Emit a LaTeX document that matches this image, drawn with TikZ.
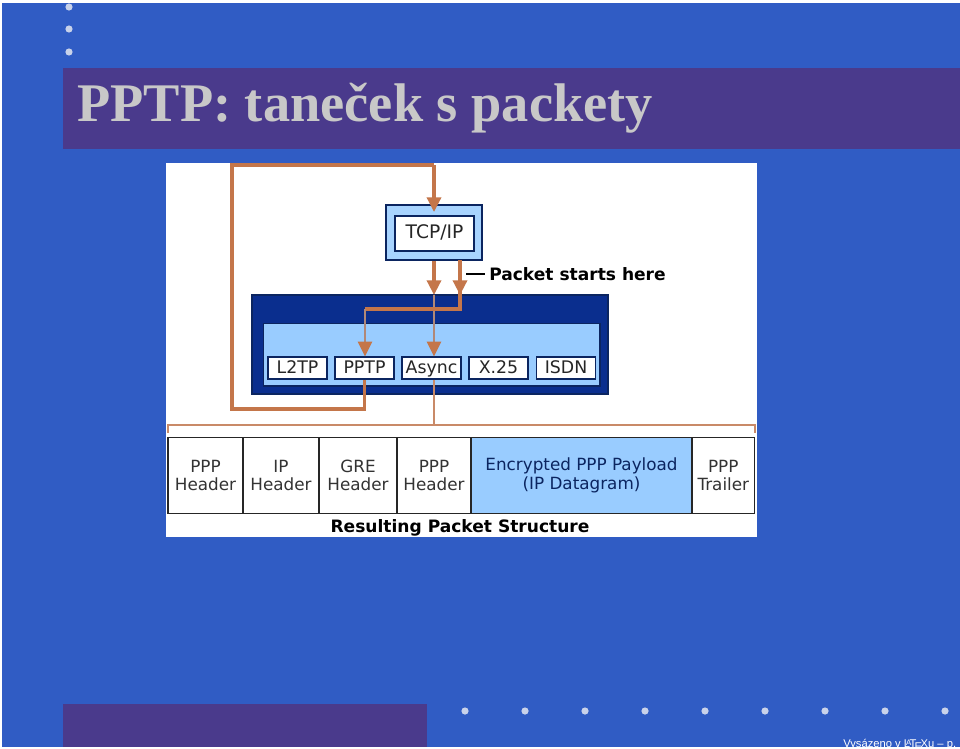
\documentclass[tikz,border=0pt]{standalone}
\usepackage{fontspec}
\setmainfont{Liberation Serif}
\setsansfont{Liberation Sans}
\newfontfamily\diagfont{DejaVu Sans}
\usetikzlibrary{arrows.meta,calc}
\definecolor{slideblue}{HTML}{305CC4}
\definecolor{bannerpurple}{HTML}{4A3A8C}
\definecolor{titlegrey}{HTML}{C8C8C8}
\definecolor{dotcolor}{HTML}{C8D2EA}
\definecolor{navy}{HTML}{0A2E8E}
\definecolor{navyline}{HTML}{0B2560}
\definecolor{lightblue}{HTML}{99CCFF}
\definecolor{flow}{HTML}{C4764A}
\definecolor{flowthin}{HTML}{C98A68}
\definecolor{flowgrey}{HTML}{B08878}
\tikzset{
  px/.style={x=0.75pt,y=-0.75pt},
  bar/.style={fill=bannerpurple,draw=none},
  navdot/.style={circle,fill=dotcolor,draw=none,inner sep=0pt,minimum size=5.4pt},
  proto/.style={draw=navyline,line width=0.9pt,fill=white,inner sep=0pt,minimum width=44.2pt,minimum height=16.5pt,
    text height=10.5pt,text depth=2pt,
    font=\diagfont\fontsize{13}{15}\selectfont,text=black!85},
  cell/.style={draw=black!85,line width=0.9pt,fill=white,inner sep=0pt,minimum height=57pt,align=center,
    font=\diagfont\fontsize{12.6}{14}\selectfont,text=black!80},
  flowline/.style={draw=flow,line width=2.5pt},
  flowarrow/.style={flowline,-{Triangle[length=11pt,width=10.5pt,fill=flow,color=flow]}},
  greyarrow/.style={draw=flowgrey,line width=1.6pt,-{Triangle[length=11pt,width=10.5pt,fill=flow,color=flow]}},
  thinflow/.style={draw=flowthin,line width=1.2pt},
  lbl/.style={font=\diagfont\bfseries\fontsize{12.8}{14}\selectfont,text=black,inner sep=0pt},
}
\begin{document}
\begin{tikzpicture}[px]
\useasboundingbox (0,0) rectangle (960,749);
\fill[white] (0,0) rectangle (960,749);
\fill[slideblue] (2,3) rectangle (960,747);
% banners
\fill[bar] (63,68) rectangle (960,149);
\fill[bar] (63,704) rectangle (427,747);
\node[anchor=base west,inner sep=0pt,text=titlegrey,font=\bfseries\fontsize{40.8}{46}\selectfont] (title) at (77,122) {PPTP: taneček s packety};
% navigation dots
\foreach \y/\n in {7/a,29/b,52/c} \node[navdot] (top\n) at (69,\y) {};
\foreach \x in {465,525,585,645,705,765,825,885,945} \node[navdot] (nav\x) at (\x,711) {};
% footer
\node[anchor=base west,inner sep=0pt,text=white,font=\sffamily\fontsize{8.4}{10}\selectfont] (footer) at (843,747.5) {Vysázeno v \LaTeX u -- p. 1};
\fill[white] (0,747) rectangle (960,749);
% image
\fill[white] (166,163) rectangle (757,537);
% stack
\node[draw=navyline,line width=1pt,fill=lightblue!85!white,minimum width=72pt,minimum height=41.2pt,inner sep=0pt] (tcpouter) at (434,232.5) {};
\node[proto,minimum width=59.2pt,minimum height=26.2pt,text height=9.5pt,text depth=2.5pt,font=\diagfont\fontsize{14}{16}\selectfont] (tcp) at (434.5,233.5) {TCP/IP};
\node[draw=navyline,line width=1pt,fill=navy,minimum width=267pt,minimum height=74.2pt,inner sep=0pt] (wan) at (430,344.5) {};
\node[draw=navyline,line width=0.8pt,fill=lightblue,minimum width=252.7pt,minimum height=47.2pt,inner sep=0pt] (wanin) at (431.5,354.5) {};
\node[proto] (l2tp) at (297.5,368) {L2TP};
\node[proto] (pptp) at (364.5,368) {PPTP};
\node[proto] (async) at (431.5,368) {Async};
\node[proto] (x25) at (498.5,368) {X.25};
\node[proto] (isdn) at (566,368) {ISDN};
% packet
\node[cell,minimum width=56.2pt] (c1) at (205.5,475.5) {PPP\\Header};
\node[cell,minimum width=57pt] (c2) at (281,475.5) {IP\\Header};
\node[cell,minimum width=58.5pt] (c3) at (358,475.5) {GRE\\Header};
\node[cell,minimum width=55.5pt] (c4) at (434,475.5) {PPP\\Header};
\node[cell,minimum width=165.7pt,fill=lightblue,text=navyline] (c5) at (581.5,475.5) {Encrypted PPP Payload\\(IP Datagram)};
\node[cell,minimum width=46.5pt] (c6) at (723.3,475.5) {PPP\\Trailer};
\node[lbl] (result) at (460,528) {Resulting Packet Structure};
\node[lbl,anchor=west] (start) at (489,274) {Packet starts here};
% connector coordinates
\coordinate (lb) at (232,409);
\coordinate (lc) at (232,165);
\coordinate (ld) at (434,165);
\coordinate (tip) at (434,212);
\coordinate (sa) at (460,260);
\coordinate (sb) at (460,309);
\coordinate (sc) at (365,309);
\coordinate (wt) at (434,295);
\coordinate (wt2) at (460,295);
\coordinate (ba) at (168,433);
\coordinate (bb) at (168,425);
\coordinate (bc) at (755,425);
\coordinate (bd) at (755,433);
\coordinate (be) at (434,425);
\coordinate (ta) at (466,274);
\coordinate (tb) at (485,274);
% connectors
\draw[flowline] (pptp.south) -- (pptp.south |- lb) -- (lb) -- (lc) -- (ld);
\draw[flowarrow] (ld) -- (tip);
\draw[greyarrow] (wt) -- (async.north -| wt);
\draw[flowarrow] (tcpouter.south) -- (wt);
\draw[flowline] (sa) -- (sb) -- (sc);
\draw[flowarrow] (sa) -- (wt2);
\draw[greyarrow] (sc) -- (pptp.north -| sc);
\draw[thinflow] (async.south -| be) -- (be);
\draw[thinflow,line width=1pt] (ba) -- (bb) -- (bc) -- (bd);
\draw[black,line width=0.9pt] (ta) -- (tb);
\end{tikzpicture}
\end{document}
